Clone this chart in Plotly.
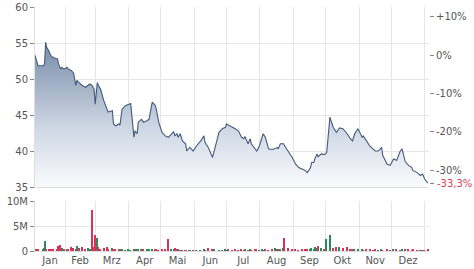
import plotly.graph_objects as go
import pandas as pd

# ---------------- data ----------------
dates = [
    "2023-01-04", "2023-01-06", "2023-01-07", "2023-01-12", "2023-01-13", "2023-01-14", "2023-01-15", "2023-01-17", "2023-01-19", "2023-01-21",
    "2023-01-25", "2023-01-26", "2023-01-28", "2023-01-29", "2023-01-31", "2023-02-03", "2023-02-04", "2023-02-07", "2023-02-09", "2023-02-11",
    "2023-02-12", "2023-02-14", "2023-02-17", "2023-02-20", "2023-02-23", "2023-02-24", "2023-02-26", "2023-02-28", "2023-03-01", "2023-03-03",
    "2023-03-04", "2023-03-06", "2023-03-09", "2023-03-12", "2023-03-13", "2023-03-17", "2023-03-18", "2023-03-20", "2023-03-23", "2023-03-24",
    "2023-03-26", "2023-03-29", "2023-04-01", "2023-04-03",
    "2023-04-06", "2023-04-07", "2023-04-09", "2023-04-10", "2023-04-13", "2023-04-15", "2023-04-18", "2023-04-20", "2023-04-23", "2023-04-26",
    "2023-04-27", "2023-04-29", "2023-05-02", "2023-05-05", "2023-05-08", "2023-05-11", "2023-05-13", "2023-05-14", "2023-05-16", "2023-05-17",
    "2023-05-19", "2023-05-21", "2023-05-24", "2023-05-25", "2023-05-27", "2023-05-28", "2023-05-31", "2023-06-03", "2023-06-07", "2023-06-10",
    "2023-06-11", "2023-06-14", "2023-06-18", "2023-06-20", "2023-06-24", "2023-06-27", "2023-06-30", "2023-07-01",
    "2023-07-03", "2023-07-06", "2023-07-09", "2023-07-12", "2023-07-15", "2023-07-17", "2023-07-18", "2023-07-21", "2023-07-23", "2023-07-24",
    "2023-07-28", "2023-07-29", "2023-07-31", "2023-08-03", "2023-08-04", "2023-08-06", "2023-08-09", "2023-08-12", "2023-08-15", "2023-08-17",
    "2023-08-18", "2023-08-20", "2023-08-23", "2023-08-24", "2023-08-27", "2023-08-31", "2023-09-03", "2023-09-06", "2023-09-09", "2023-09-12",
    "2023-09-14", "2023-09-17", "2023-09-18", "2023-09-20", "2023-09-21", "2023-09-23", "2023-09-24", "2023-09-27", "2023-09-30", "2023-10-02",
    "2023-10-05", "2023-10-08", "2023-10-11", "2023-10-14", "2023-10-17", "2023-10-21", "2023-10-24", "2023-10-26", "2023-10-28", "2023-10-31",
    "2023-11-04", "2023-11-05", "2023-11-08", "2023-11-11", "2023-11-14", "2023-11-16", "2023-11-19", "2023-11-22", "2023-11-23", "2023-11-27",
    "2023-11-30", "2023-12-03", "2023-12-06", "2023-12-09", "2023-12-11", "2023-12-14", "2023-12-17", "2023-12-20", "2023-12-21", "2023-12-25",
    "2023-12-28", "2023-12-30", "2024-01-01", "2024-01-04",
]

prices = [
    53.3, 52.1, 51.85, 51.85, 52.1, 55.1, 54.4, 53.9, 53.2, 53.0,
    52.8, 52.1, 51.4, 51.6, 51.4, 51.6, 51.4, 51.15, 50.8, 49.1,
    49.8, 49.5, 49.1, 48.85, 49.1, 49.3, 49.1, 48.6, 46.5, 49.5,
    49.1, 48.6, 47.0, 45.8, 45.4, 45.6, 43.75, 43.5, 43.75, 43.6,
    45.8, 46.3, 46.5, 46.6,
    41.9, 42.8, 42.4, 44.0, 44.4, 44.0, 44.2, 44.4, 46.8, 46.3,
    45.6, 44.0, 42.6, 42.1, 41.9, 42.4, 42.7, 42.1, 42.4, 41.9,
    42.4, 41.4, 41.0, 40.0, 40.3, 40.5, 40.0, 40.7, 41.4, 42.1,
    41.2, 40.5, 39.1, 40.3, 42.6, 43.1, 43.3, 43.75,
    43.6, 43.3, 43.1, 42.8, 41.9, 41.7, 42.0, 41.0, 41.7, 41.0,
    40.3, 40.0, 40.5, 42.1, 42.4, 41.9, 40.3, 40.2, 40.3, 40.5,
    40.3, 41.0, 41.0, 40.7, 40.0, 39.1, 38.2, 37.7, 37.5, 37.3,
    37.0, 37.7, 38.4, 38.4, 38.9, 39.6, 39.2, 39.6, 39.5, 39.8,
    44.7, 43.3, 42.6, 43.2, 43.1, 42.4, 41.7, 41.4, 42.4, 43.1,
    41.9, 42.1, 41.4, 40.7, 40.3, 40.0, 40.0, 40.5, 39.4, 38.2,
    38.0, 38.9, 38.7, 39.9, 40.3, 38.5, 38.0, 37.7, 37.3, 37.0,
    36.6, 36.8, 36.1, 35.55,
]

volumes_m = [
    0.3, 0.4, 0.3, 0.3, 0.6, 2.0, 0.5, 0.3, 0.4, 0.3,
    0.4, 1.1, 1.2, 0.6, 0.4, 0.5, 0.3, 0.8, 0.6, 0.4,
    1.0, 0.6, 0.9, 0.5, 0.7, 0.5, 8.2, 0.9, 3.3, 2.6,
    0.8, 0.5, 0.6, 0.8, 0.5, 0.7, 0.3, 0.4, 0.3, 0.3,
    0.4, 0.2, 0.3, 0.2,
    0.5, 0.4, 0.5, 0.4, 0.3, 0.3, 0.4, 0.5, 0.3, 0.3,
    0.3, 0.2, 0.3, 0.4, 2.4, 0.5, 0.4, 0.6, 0.3, 0.4,
    0.2, 0.2, 0.2, 0.2, 0.2, 0.2, 0.2, 0.2, 0.2, 0.3,
    0.2, 0.7, 0.3, 0.4, 0.2, 0.2, 0.3, 0.2,
    0.3, 0.2, 0.3, 0.2, 0.3, 0.2, 0.3, 0.2, 0.3, 0.2,
    0.3, 0.3, 0.2, 0.3, 0.2, 0.3, 0.2, 0.3, 0.6, 0.5,
    0.3, 0.4, 0.7, 2.7, 0.6, 0.3, 0.3, 0.2, 0.3, 0.4,
    0.3, 0.3, 0.6, 0.5, 0.8, 0.6, 1.0, 0.6, 0.4, 2.4,
    3.2, 0.7, 0.9, 0.8, 0.6, 0.9, 0.5, 0.4, 0.3, 0.3,
    0.3, 0.2, 0.3, 0.3, 0.2, 0.3, 0.2, 0.3, 0.2, 0.3,
    0.2, 0.3, 0.3, 0.2, 0.3, 0.5, 0.3, 0.2, 0.3, 0.2,
    0.2, 0.2, 0.2, 0.3,
]

month_labels = ["Jan", "Feb", "Mrz", "Apr", "Mai", "Jun", "Jul", "Aug", "Sep", "Okt", "Nov", "Dez"]
pct_ticks = [10, 0, -10, -20, -30]
pct_labels = ["+10%", "0%", "-10%", "-20%", "-30%"]
price_ticks = [35, 40, 45, 50, 55, 60]
vol_ticks_m = [0, 5, 10]
vol_labels = ["0", "5M", "10M"]

# ---------------- figure ----------------
assert len(dates) == len(prices) == len(volumes_m)

x_start = pd.Timestamp("2023-01-04 03:00")
x_end = pd.Timestamp("2024-01-05")

ref_price = prices[0]
last_change = (prices[-1] / ref_price - 1) * 100
last_label = f"{last_change:.1f}%".replace(".", ",")

month_starts = pd.date_range("2023-02-01", "2024-01-01", freq="MS")
month_mid = []
for i in range(12):
    s = max(pd.Timestamp(2023, i + 1, 1), x_start)
    e = pd.Timestamp(2023, i + 1, 1) + pd.offsets.MonthBegin(1)
    month_mid.append(s + (e - s) / 2)

up_col = "#2a8a5a"
down_col = "#d6345a"
bar_colors = [up_col] + [up_col if prices[i] >= prices[i - 1] else down_col for i in range(1, len(prices))]

TXT = "#555555"
GRID = "#e6e6e6"
FONT = "DejaVu Sans"

fig = go.Figure()

# baseline for fill
fig.add_trace(go.Scatter(x=dates, y=[price_ticks[0]] * len(dates), mode="lines",
                         line=dict(width=0), hoverinfo="skip", showlegend=False,
                         xaxis="x", yaxis="y"))
fig.add_trace(go.Scatter(
    x=dates, y=prices, mode="lines", fill="tonexty",
    line=dict(color="#44597a", width=1.1),
    fillgradient=dict(type="vertical", start=35, stop=56,
                      colorscale=[[0, "rgba(250,251,253,1)"], [0.4, "rgba(205,214,227,1)"],
                                  [1, "rgba(112,134,164,1)"]]),
    showlegend=False, xaxis="x", yaxis="y"))
# invisible trace for right axis
fig.add_trace(go.Scatter(x=dates, y=prices, mode="lines", line=dict(width=0),
                         opacity=0, hoverinfo="skip", showlegend=False,
                         xaxis="x", yaxis="y3"))

fig.add_trace(go.Bar(x=dates, y=[v * 1e6 for v in volumes_m], marker=dict(color=bar_colors, line=dict(width=0)),
                     width=1.4 * 86400000, showlegend=False, xaxis="x2", yaxis="y2"))

minor_grid = dict(tickmode="array", tickvals=list(month_starts), showgrid=True,
                  gridcolor=GRID, gridwidth=1, ticks="")

fig.update_layout(
    width=474, height=269,
    margin=dict(l=34.7, r=45, t=7, b=18),
    paper_bgcolor="white", plot_bgcolor="white",
    font=dict(family=FONT, size=10, color=TXT),
    bargap=0,
    xaxis=dict(domain=[0, 1], anchor="y", range=[x_start, x_end], type="date",
               tickmode="array", tickvals=month_mid, ticktext=month_labels,
               showticklabels=False, showgrid=False, ticks="", minor=minor_grid,
               showline=True, linecolor="#dddddd", zeroline=False, automargin=False),
    yaxis=dict(domain=[0.2623, 1], anchor="x", range=[35, 60],
               tickmode="array", tickvals=price_ticks, ticks="outside", ticklen=4,
               tickcolor="#888888", showgrid=True, gridcolor=GRID, zeroline=False,
               showline=True, linecolor="#dddddd", automargin=False),
    yaxis3=dict(overlaying="y", anchor="x", side="right", range=[35, 60],
                tickmode="array", tickvals=[ref_price * (1 + p / 100) for p in pct_ticks] + [prices[-1]],
                ticktext=pct_labels + [""], ticks="outside", ticklen=4,
                tickcolor="#888888", showgrid=False, zeroline=False, showline=False,
                automargin=False),
    xaxis2=dict(domain=[0, 1], anchor="y2", range=[x_start, x_end], type="date", matches="x",
                tickmode="array", tickvals=month_mid, ticktext=month_labels,
                showgrid=False, ticks="", minor=minor_grid, ticklabelstandoff=0,
                showline=True, linecolor="#dddddd", zeroline=False, automargin=False),
    yaxis2=dict(domain=[0, 0.2049], anchor="x2", range=[0, 1e7],
                tickmode="array", tickvals=[v * 1e6 for v in vol_ticks_m], ticktext=vol_labels,
                ticks="outside", ticklen=4, tickcolor="#888888",
                showgrid=True, gridcolor=GRID, zeroline=False,
                showline=True, linecolor="#dddddd", automargin=False),
    annotations=[dict(xref="paper", yref="y", x=1, y=prices[-1], xanchor="left", yanchor="middle",
                      xshift=6, text=last_label, showarrow=False,
                      font=dict(family=FONT, size=10, color="#e0405a"))],
)

fig.write_html("out.html")
